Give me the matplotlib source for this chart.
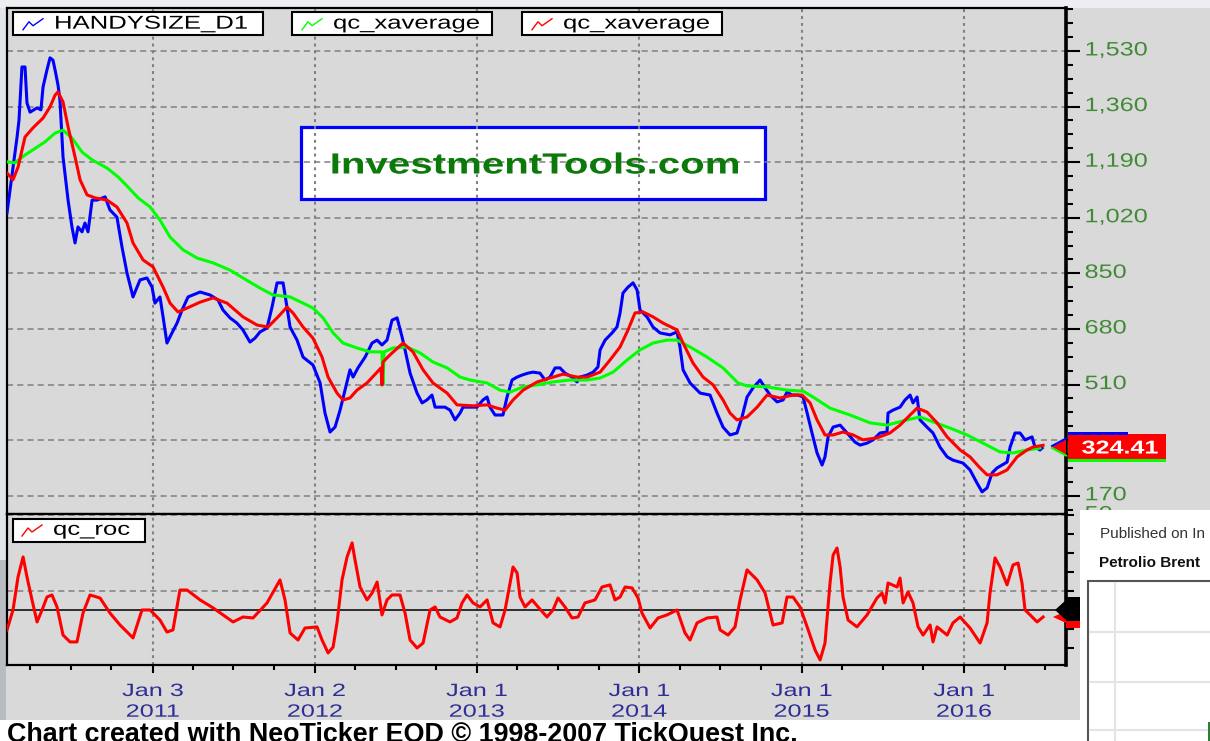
import matplotlib
matplotlib.use("Agg")
import matplotlib.pyplot as plt
import matplotlib.patheffects as pe
from matplotlib.patches import Rectangle, Polygon
from matplotlib.lines import Line2D
from matplotlib.transforms import Affine2D, blended_transform_factory
from matplotlib.ticker import FixedLocator, MultipleLocator

# ---------------- data (decimal years, values) ----------------
handysize = [(2010.107,1035),(2010.144,1175),(2010.169,1267),(2010.181,1319),(2010.199,1481),(2010.218,1481),(2010.230,1371),(2010.249,1343),(2010.292,1356),(2010.316,1350),(2010.329,1420),(2010.353,1472),(2010.372,1509),(2010.390,1502),(2010.403,1472),(2010.421,1426),(2010.433,1380),(2010.452,1206),(2010.483,1074),(2010.507,992),(2010.526,943),(2010.544,992),(2010.569,977),(2010.587,1004),(2010.606,977),(2010.631,1074),(2010.661,1074),(2010.711,1084),(2010.741,1044),(2010.784,1022),(2010.815,931),(2010.846,851),(2010.883,778),(2010.926,830),(2010.969,836),(2011.000,808),(2011.018,759),(2011.049,778),(2011.068,717),(2011.092,637),(2011.123,668),(2011.154,698),(2011.185,738),(2011.222,778),(2011.252,784),(2011.296,793),(2011.357,784),(2011.406,769),(2011.437,738),(2011.480,714),(2011.523,698),(2011.560,677),(2011.603,640),(2011.634,652),(2011.665,671),(2011.708,683),(2011.739,747),(2011.770,821),(2011.807,821),(2011.831,747),(2011.850,686),(2011.893,646),(2011.930,594),(2011.991,570),(2012.035,515),(2012.065,423),(2012.096,365),(2012.127,380),(2012.158,432),(2012.188,493),(2012.219,555),(2012.238,533),(2012.268,561),(2012.312,594),(2012.355,637),(2012.386,646),(2012.416,631),(2012.447,646),(2012.478,707),(2012.509,714),(2012.540,655),(2012.558,616),(2012.589,545),(2012.632,484),(2012.663,454),(2012.693,463),(2012.724,478),(2012.743,441),(2012.804,441),(2012.835,432),(2012.866,402),(2012.897,423),(2012.915,441),(2013.001,441),(2013.038,463),(2013.063,472),(2013.081,441),(2013.112,417),(2013.161,417),(2013.186,472),(2013.217,524),(2013.248,533),(2013.278,539),(2013.315,545),(2013.346,548),(2013.389,545),(2013.420,524),(2013.451,533),(2013.482,561),(2013.512,561),(2013.543,545),(2013.586,533),(2013.617,518),(2013.636,533),(2013.679,539),(2013.716,548),(2013.746,564),(2013.759,616),(2013.790,646),(2013.833,668),(2013.863,686),(2013.882,729),(2013.900,790),(2013.931,808),(2013.962,821),(2013.987,799),(2014.005,738),(2014.048,717),(2014.085,686),(2014.128,668),(2014.190,662),(2014.233,671),(2014.251,625),(2014.270,555),(2014.313,515),(2014.375,484),(2014.436,478),(2014.479,423),(2014.516,380),(2014.559,356),(2014.602,362),(2014.633,411),(2014.664,472),(2014.701,500),(2014.744,524),(2014.775,500),(2014.806,478),(2014.849,457),(2014.886,463),(2014.910,487),(2014.941,478),(2014.978,478),(2015.009,472),(2015.034,423),(2015.064,362),(2015.095,301),(2015.126,264),(2015.144,289),(2015.163,350),(2015.194,380),(2015.237,386),(2015.280,362),(2015.329,334),(2015.360,325),(2015.403,331),(2015.440,341),(2015.483,362),(2015.526,365),(2015.532,423),(2015.563,432),(2015.606,441),(2015.637,463),(2015.668,478),(2015.686,454),(2015.711,472),(2015.729,402),(2015.772,380),(2015.809,362),(2015.852,319),(2015.896,289),(2015.932,279),(2015.994,270),(2016.037,249),(2016.080,209),(2016.111,182),(2016.142,194),(2016.173,240),(2016.203,255),(2016.265,273),(2016.284,319),(2016.314,362),(2016.345,362),(2016.376,341),(2016.419,350),(2016.437,319),(2016.468,310),(2016.481,316)]

xavg_slow = [(2010.107,1191),(2010.156,1188),(2010.218,1212),(2010.341,1252),(2010.403,1279),(2010.452,1288),(2010.507,1264),(2010.569,1221),(2010.631,1197),(2010.723,1172),(2010.791,1145),(2010.852,1114),(2010.914,1081),(2010.988,1053),(2011.049,1013),(2011.111,961),(2011.191,922),(2011.277,897),(2011.376,882),(2011.480,860),(2011.560,836),(2011.665,805),(2011.745,784),(2011.850,778),(2011.930,759),(2011.991,744),(2012.053,714),(2012.115,668),(2012.176,637),(2012.262,622),(2012.342,610),(2012.416,610),(2012.422,509),(2012.429,610),(2012.484,622),(2012.570,625),(2012.650,607),(2012.730,579),(2012.817,561),(2012.897,533),(2012.958,524),(2013.063,515),(2013.143,493),(2013.205,487),(2013.285,503),(2013.371,509),(2013.469,518),(2013.574,524),(2013.679,524),(2013.759,530),(2013.839,548),(2013.925,585),(2014.005,616),(2014.085,637),(2014.171,646),(2014.233,646),(2014.313,625),(2014.418,594),(2014.516,561),(2014.608,515),(2014.664,506),(2014.787,503),(2014.910,493),(2015.009,490),(2015.070,472),(2015.175,438),(2015.298,417),(2015.421,393),(2015.526,386),(2015.649,402),(2015.729,411),(2015.809,396),(2015.914,377),(2016.019,356),(2016.117,331),(2016.222,304),(2016.302,301),(2016.388,310),(2016.468,316)]

xavg_fast = [(2010.107,1157),(2010.144,1136),(2010.175,1175),(2010.218,1267),(2010.267,1295),(2010.329,1325),(2010.372,1359),(2010.403,1395),(2010.421,1405),(2010.452,1374),(2010.483,1298),(2010.526,1206),(2010.557,1136),(2010.600,1090),(2010.649,1081),(2010.723,1074),(2010.784,1053),(2010.846,1004),(2010.883,943),(2010.945,891),(2011.006,870),(2011.068,808),(2011.111,759),(2011.160,732),(2011.216,744),(2011.296,762),(2011.376,775),(2011.462,759),(2011.560,717),(2011.647,692),(2011.714,686),(2011.776,717),(2011.831,747),(2011.868,729),(2011.930,686),(2011.991,652),(2012.047,594),(2012.084,533),(2012.139,484),(2012.176,463),(2012.219,469),(2012.262,493),(2012.324,515),(2012.410,561),(2012.416,509),(2012.422,579),(2012.466,601),(2012.546,637),(2012.607,610),(2012.669,555),(2012.730,515),(2012.817,484),(2012.878,448),(2012.977,445),(2013.063,448),(2013.124,438),(2013.174,432),(2013.223,463),(2013.285,493),(2013.371,518),(2013.451,530),(2013.531,542),(2013.617,533),(2013.679,533),(2013.759,548),(2013.820,585),(2013.882,625),(2013.931,677),(2013.974,729),(2014.024,732),(2014.085,717),(2014.147,698),(2014.233,677),(2014.270,637),(2014.331,576),(2014.393,533),(2014.455,509),(2014.516,463),(2014.559,423),(2014.602,402),(2014.664,411),(2014.726,441),(2014.787,478),(2014.867,469),(2014.947,478),(2015.003,478),(2015.052,454),(2015.095,402),(2015.144,356),(2015.194,356),(2015.255,365),(2015.317,356),(2015.378,341),(2015.464,347),(2015.544,362),(2015.606,386),(2015.668,417),(2015.711,438),(2015.772,426),(2015.834,393),(2015.896,350),(2015.976,310),(2016.037,289),(2016.099,255),(2016.142,234),(2016.203,234),(2016.265,249),(2016.327,289),(2016.388,310),(2016.425,319),(2016.487,324.41)]

roc = [(2010.107,-10.5),(2010.144,0.0),(2010.175,17.4),(2010.206,27.9),(2010.230,17.4),(2010.261,5.3),(2010.292,-6.3),(2010.323,0.0),(2010.353,6.8),(2010.384,7.9),(2010.415,1.6),(2010.452,-13.2),(2010.495,-16.8),(2010.538,-16.8),(2010.575,-1.6),(2010.618,7.9),(2010.680,6.3),(2010.741,-1.6),(2010.803,-7.9),(2010.883,-14.7),(2010.938,0.0),(2010.988,0.0),(2011.049,-5.3),(2011.092,-11.6),(2011.129,-10.5),(2011.172,10.5),(2011.216,10.5),(2011.296,5.3),(2011.376,1.1),(2011.499,-6.3),(2011.560,-3.7),(2011.622,-4.2),(2011.708,3.7),(2011.788,15.8),(2011.819,5.3),(2011.850,-12.1),(2011.899,-15.8),(2011.942,-9.5),(2012.016,-8.9),(2012.047,-15.8),(2012.084,-22.6),(2012.115,-19.5),(2012.139,-6.8),(2012.170,15.8),(2012.201,27.9),(2012.232,35.3),(2012.250,26.3),(2012.281,12.1),(2012.324,5.3),(2012.355,8.9),(2012.386,14.7),(2012.416,-2.6),(2012.447,5.3),(2012.478,7.9),(2012.527,7.9),(2012.558,-1.6),(2012.589,-15.8),(2012.632,-20.0),(2012.669,-17.4),(2012.712,0.0),(2012.743,1.6),(2012.773,-3.7),(2012.835,-6.3),(2012.878,-4.2),(2012.909,3.7),(2012.940,7.9),(2012.977,3.7),(2013.020,1.6),(2013.063,5.3),(2013.100,-6.8),(2013.143,-8.9),(2013.174,0.0),(2013.205,14.2),(2013.223,22.6),(2013.248,19.5),(2013.266,6.8),(2013.297,1.6),(2013.340,5.3),(2013.377,1.6),(2013.432,-3.7),(2013.469,0.0),(2013.500,6.3),(2013.543,1.6),(2013.586,-4.2),(2013.623,-3.7),(2013.666,3.7),(2013.728,5.3),(2013.771,12.1),(2013.820,13.2),(2013.851,5.3),(2013.882,6.8),(2013.913,12.1),(2013.956,11.6),(2013.993,6.3),(2014.017,-1.6),(2014.067,-9.5),(2014.116,-4.2),(2014.171,-2.6),(2014.233,0.0),(2014.282,-12.1),(2014.313,-15.8),(2014.356,-6.8),(2014.418,-4.2),(2014.479,-3.7),(2014.498,-10.5),(2014.547,-13.2),(2014.590,-8.9),(2014.621,5.3),(2014.664,21.1),(2014.726,15.8),(2014.775,8.9),(2014.824,-7.9),(2014.880,-6.8),(2014.910,6.8),(2014.947,6.8),(2014.990,1.6),(2015.034,-8.9),(2015.083,-21.1),(2015.114,-26.3),(2015.144,-17.4),(2015.175,14.2),(2015.194,28.9),(2015.218,32.6),(2015.237,22.6),(2015.255,6.8),(2015.286,-5.3),(2015.341,-8.9),(2015.403,-2.6),(2015.464,6.3),(2015.495,8.9),(2015.514,3.7),(2015.532,14.2),(2015.588,12.1),(2015.606,16.8),(2015.625,3.7),(2015.655,9.5),(2015.686,3.7),(2015.717,-8.9),(2015.748,-13.2),(2015.791,-7.9),(2015.809,-16.8),(2015.834,-8.9),(2015.896,-13.2),(2015.932,-6.8),(2015.976,-3.7),(2016.037,-9.5),(2016.099,-17.4),(2016.142,-6.8),(2016.160,8.9),(2016.191,27.4),(2016.222,22.6),(2016.265,13.2),(2016.302,23.7),(2016.333,24.7),(2016.357,14.2),(2016.376,0.0),(2016.407,-2.6),(2016.450,-6.3),(2016.487,-3.7)]

price_ticks = [170, 340, 510, 680, 850, 1020, 1190, 1360, 1530]
price_labels_shown = [170, 510, 680, 850, 1020, 1190, 1360, 1530]   # 340 hidden by the value box
roc_ticks = [-20, -10, 0, 10, 20, 30, 40, 50]
roc_labels_shown = [50]                                            # rest hidden by the overlapping panel
roc_grid = [10, 50]
year_ticks = [2011.005, 2012.003, 2013.0, 2014.0, 2015.0, 2016.0]
year_labels = [("Jan 3", "2011"), ("Jan 2", "2012"), ("Jan 1", "2013"),
               ("Jan 1", "2014"), ("Jan 1", "2015"), ("Jan 1", "2016")]
quarter_ticks = [y + q for y in range(2010, 2017) for q in (0.25, 0.5, 0.75)]

# ---------------- helpers ----------------
W, H = 1210, 741
FONT = "Liberation Sans"
BG = "#d9d9d9"
GRID = "#808080"
LBL_GREEN = "#438a38"
XLBL = "#2e2e96"
plt.rcParams["font.family"] = [FONT, "DejaVu Sans"]


class Stretch(pe.AbstractPathEffect):
    """Draw text horizontally stretched (the reference screenshot is wide)."""
    def __init__(self, sx, anchor="left"):
        super().__init__((0, 0))
        self.sx = sx
        self.anchor = anchor

    def draw_path(self, renderer, gc, tpath, affine, rgbFace=None):
        ext = tpath.get_extents()
        if self.anchor == "center":
            cx = 0.5 * (ext.x0 + ext.x1)
        elif self.anchor == "right":
            cx = ext.x1
        else:
            cx = 0.0
        tr = Affine2D().translate(-cx, 0).scale(self.sx, 1.0).translate(cx, 0) + affine
        renderer.draw_path(gc, tpath, tr, rgbFace)


fig = plt.figure(figsize=(W / 100, H / 100), dpi=100)
fig.patch.set_facecolor(BG)


def fx(x):
    return x / W


def fy(y):
    return 1 - y / H


def frect(x0, y0, x1, y1, **kw):
    r = Rectangle((fx(x0), fy(y1)), fx(x1) - fx(x0), fy(y0) - fy(y1),
                  transform=fig.transFigure, **kw)
    fig.add_artist(r)
    return r


def fpoly(pts, **kw):
    p = Polygon([(fx(a), fy(b)) for a, b in pts], closed=True,
                transform=fig.transFigure, **kw)
    fig.add_artist(p)
    return p


def fline(pts, **kw):
    l = Line2D([fx(a) for a, b in pts], [fy(b) for a, b in pts],
               transform=fig.transFigure, **kw)
    fig.add_artist(l)
    return l


# screenshot surroundings
frect(0, 0, W, 7.5, facecolor="#eceef2", edgecolor="none", zorder=-1)
frect(0, 7.5, 6, 560, facecolor="#e1e4ea", edgecolor="none", zorder=-1)
frect(0, 560, 6, 720, facecolor="#b8bbc1", edgecolor="none", zorder=-1)

X0, X1 = 2010.107, 2016.628

# ---------------- main panel ----------------
ax = fig.add_axes([fx(7), fy(514), fx(1066) - fx(7), fy(8) - fy(514)])
ax.set_facecolor(BG)
ax.set_xlim(X0, X1)
ax.set_ylim(114.3, 1661.4)

for v in price_ticks:
    ax.axhline(v, color=GRID, lw=1.1, ls=(0, (4.0, 2.7)), zorder=1.5)
for t in year_ticks:
    ax.axvline(t, color=GRID, lw=1.5, ls=(0, (1.4, 1.9)), zorder=1.5)

# watermark
ax.add_patch(Rectangle((fx(301), fy(199)), fx(765) - fx(301), fy(127) - fy(199),
                       transform=fig.transFigure, facecolor="white",
                       edgecolor="#0000ff", lw=2.3, zorder=1))
ax.text(fx(535), fy(173.5), "InvestmentTools.com", transform=fig.transFigure,
        ha="center", va="baseline", fontsize=21, fontweight="bold",
        color="#0b7a0b", zorder=1.8, path_effects=[Stretch(1.38, "center")])

bt, bv = zip(*handysize)
gt, gv = zip(*xavg_slow)
rt, rv = zip(*xavg_fast)
ax.plot(bt, bv, color="#0000ff", lw=2.2, zorder=3)
ax.plot(gt, gv, color="#00ff00", lw=2.2, zorder=4)
ax.plot(rt, rv, color="#ff0000", lw=2.2, zorder=5)

for s in ("left", "top", "bottom"):
    ax.spines[s].set_linewidth(1.6)
    ax.spines[s].set_color("black")
ax.spines["right"].set_linewidth(2.6)
ax.tick_params(axis="x", which="both", bottom=False, top=False,
               labelbottom=False)
ax.yaxis.set_major_locator(FixedLocator(price_ticks))
ax.yaxis.set_minor_locator(MultipleLocator(42.5))
ax.tick_params(axis="y", which="major", left=False, right=True,
               labelleft=False, labelright=False, length=10, width=1.5,
               direction="out")
ax.tick_params(axis="y", which="minor", left=False, right=True,
               length=5, width=1.5, direction="out")

trY = blended_transform_factory(ax.transAxes, ax.transData)
for v in price_labels_shown:
    ax.text(1.0175, v, f"{v:,}", transform=trY, ha="left", va="center",
            fontsize=14, color=LBL_GREEN, clip_on=False,
            path_effects=[Stretch(1.3)])

# ---------------- ROC panel ----------------
ax2 = fig.add_axes([fx(7), fy(665), fx(1066) - fx(7), fy(514) - fy(665)])
ax2.set_facecolor(BG)
ax2.set_xlim(X0, X1)
ax2.set_ylim(-28.95, 50.5)
for v in roc_grid:
    ax2.axhline(v, color=GRID, lw=1.1, ls=(0, (4.0, 2.7)), zorder=1.5)
for t in year_ticks:
    ax2.axvline(t, color=GRID, lw=1.5, ls=(0, (1.4, 1.9)), zorder=1.5)
ax2.axhline(0, color="black", lw=1.1, zorder=2)
ot, ov = zip(*roc)
ax2.plot(ot, ov, color="#ff0000", lw=2.2, zorder=3)

for s in ("left", "top", "bottom"):
    ax2.spines[s].set_linewidth(1.6)
    ax2.spines[s].set_color("black")
ax2.spines["right"].set_linewidth(2.6)
ax2.xaxis.set_major_locator(FixedLocator(year_ticks))
ax2.xaxis.set_minor_locator(FixedLocator(quarter_ticks))
ax2.tick_params(axis="x", which="major", bottom=True, labelbottom=False,
                length=5.5, width=1.5, direction="out")
ax2.tick_params(axis="x", which="minor", bottom=True, labelbottom=False,
                length=3.5, width=1.5, direction="out")
ax2.yaxis.set_major_locator(FixedLocator(roc_ticks))
ax2.tick_params(axis="y", which="major", left=False, right=True,
                labelleft=False, labelright=False, length=6, width=1.5,
                direction="out")
trY2 = blended_transform_factory(ax2.transAxes, ax2.transData)
for v in roc_labels_shown:
    ax2.text(1.0175, v, f"{v}", transform=trY2, ha="left", va="center",
             fontsize=14, color=LBL_GREEN, clip_on=False,
             path_effects=[Stretch(1.3)])

# x labels
trX = blended_transform_factory(ax2.transData, fig.transFigure)
for t, (l1, l2) in zip(year_ticks, year_labels):
    ax2.text(t, fy(696), l1, transform=trX, ha="center", va="baseline",
             fontsize=12.8, color=XLBL, clip_on=False,
             path_effects=[Stretch(1.42, "center")])
    ax2.text(t, fy(716.7), l2, transform=trX, ha="center", va="baseline",
             fontsize=12.8, color=XLBL, clip_on=False,
             path_effects=[Stretch(1.42, "center")])

# ---------------- legends ----------------
def legend_box(x0, y0, x1, y1, color, label, tx, ix):
    frect(x0, y0, x1, y1, facecolor="white", edgecolor="black", lw=1.5,
          zorder=5)
    cy = (y0 + y1) / 2
    fline([(ix, cy + 6), (ix + 6, cy - 2), (ix + 10, cy + 2), (ix + 20, cy - 5)],
          color=color, lw=1.0, zorder=6)
    fig.text(fx(tx), fy(cy + 0.5), label, ha="left", va="center",
             fontsize=13.4, color="black", zorder=6,
             path_effects=[Stretch(1.38)])


legend_box(13, 12.5, 262.5, 35, "#0000ff", "HANDYSIZE_D1", 54, 23)
legend_box(292, 12.5, 492.5, 35, "#00ff00", "qc_xaverage", 333, 302)
legend_box(522, 12.5, 722.5, 35, "#ff0000", "qc_xaverage", 563, 532)
legend_box(13, 518.5, 145, 541.5, "#ff0000", "qc_roc", 53, 22)

# ---------------- last value markers ----------------
fpoly([(1052, 447), (1066, 439), (1066, 455)], facecolor="#ff0000",
      edgecolor="none", zorder=6)
fline([(1052, 446), (1066, 438.5)], color="#0000ff", lw=1.5, zorder=6)
fline([(1052, 448), (1066, 455.5)], color="#00ff00", lw=1.5, zorder=6)
frect(1068, 434, 1166, 460, facecolor="#ff0000", edgecolor="none", zorder=6)
frect(1068, 431.5, 1128, 434.5, facecolor="#0000ff", edgecolor="none", zorder=7)
frect(1068, 458.5, 1166, 461.5, facecolor="#00ff00", edgecolor="none", zorder=7)
fig.text(fx(1120), fy(453.5), f"{rv[-1]:.2f}", ha="center", va="baseline",
         fontsize=13.4, fontweight="bold", color="white", zorder=8,
         path_effects=[Stretch(1.35, "center")])

fpoly([(1053, 617), (1066, 611), (1066, 623)], facecolor="#ff0000",
      edgecolor="none", zorder=6)
frect(1066, 617, 1083, 628, facecolor="#ff0000", edgecolor="none", zorder=6)
fpoly([(1055, 610), (1066, 600), (1066, 620)], facecolor="black",
      edgecolor="none", zorder=7)
frect(1066, 597, 1083, 621, facecolor="black", edgecolor="none", zorder=7)

# ---------------- footer ----------------
frect(0, 720, W, H + 2, facecolor="white", edgecolor="none", zorder=9)
fig.text(fx(7), fy(742), "Chart created with NeoTicker EOD \u00a9 1998-2007 TickQuest Inc.",
         ha="left", va="baseline", fontsize=19.4, fontweight="bold",
         color="black", zorder=10)

# ---------------- overlapping web page panel ----------------
frect(1080, 510, W + 2, H + 2, facecolor="white", edgecolor="none", zorder=20)
fig.text(fx(1100), fy(538.3), "Published on In", ha="left", va="baseline",
         fontsize=11, color="#333333", zorder=21)
fig.text(fx(1099), fy(566.7), "Petrolio Brent", ha="left", va="baseline",
         fontsize=11, fontweight="bold", color="#111111", zorder=21)
frect(1088, 581, W + 20, H + 20, facecolor="white", edgecolor="#555555",
      lw=1.5, zorder=21)
fline([(1115, 583), (1115, H)], color="#e4e4e4", lw=1.5, zorder=22)
for yy in (632, 682, 730):
    fline([(1090, yy), (W, yy)], color="#e4e4e4", lw=1.5, zorder=22)
frect(1207.5, 722, W, H, facecolor="#2e7d32", edgecolor="none", zorder=23)

fig.savefig("out.png", dpi=100, facecolor=fig.get_facecolor())
